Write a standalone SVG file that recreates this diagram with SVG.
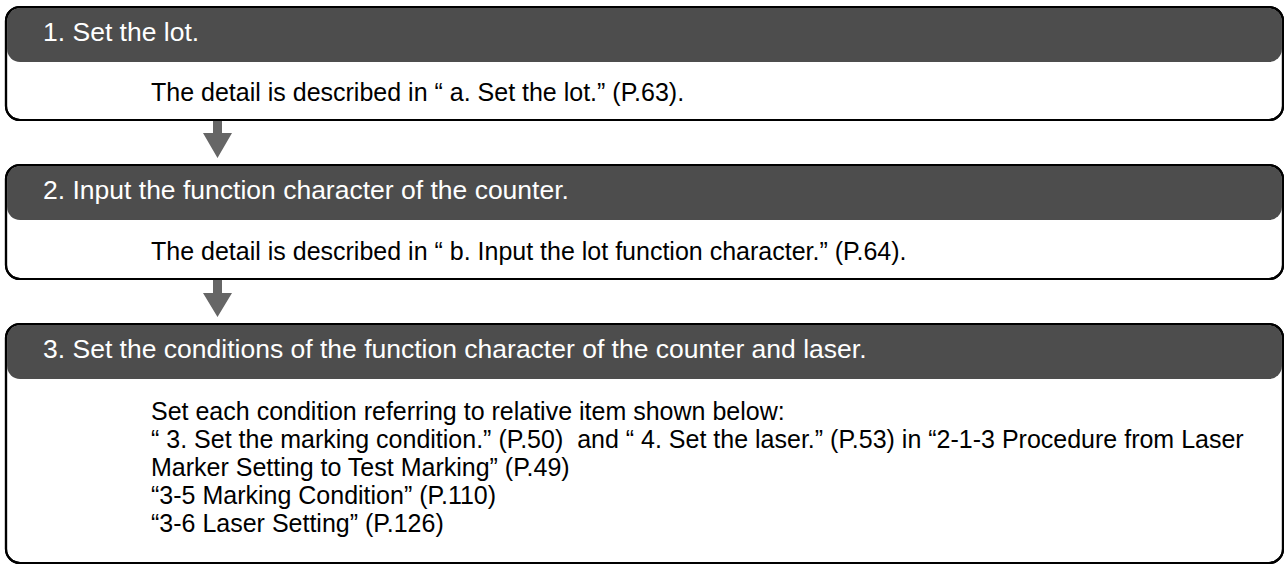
<svg xmlns="http://www.w3.org/2000/svg" width="1284" height="565" viewBox="0 0 1284 565">
<style>
.frame{fill:#ffffff;stroke:#000000;stroke-width:2.2}
.edge{fill:none;stroke:#000000;stroke-width:2.2}
.head{fill:#4d4d4d}
.ht{font-family:"Liberation Sans",Arial,sans-serif;font-size:26.5px;fill:#ffffff}
.bt{font-family:"Liberation Sans",Arial,sans-serif;font-size:25px;fill:#000000;white-space:pre}
.arrow{fill:#666666}
</style>
<rect width="1284" height="565" fill="#ffffff"/>
<g id="step1">
<rect class="frame" x="6" y="7" width="1277" height="113" rx="14"/>
<rect class="head" x="7.1" y="8.1" width="1274.8" height="54" rx="13"/>
<rect class="edge" x="6" y="7" width="1277" height="113" rx="14"/>
<text class="ht" x="43" y="41">1. Set the lot.</text>
<text class="bt" x="151" y="101">The detail is described in “ a. Set the lot.” (P.63).</text>
</g>
<g id="step2">
<rect class="frame" x="6" y="165" width="1277" height="114" rx="14"/>
<rect class="head" x="7.1" y="166.1" width="1274.8" height="54" rx="13"/>
<rect class="edge" x="6" y="165" width="1277" height="114" rx="14"/>
<text class="ht" x="43" y="199">2. Input the function character of the counter.</text>
<text class="bt" x="151" y="260">The detail is described in “ b. Input the lot function character.” (P.64).</text>
</g>
<g id="step3">
<rect class="frame" x="6" y="324" width="1277" height="239" rx="14"/>
<rect class="head" x="7.1" y="325.1" width="1274.8" height="54" rx="13"/>
<rect class="edge" x="6" y="324" width="1277" height="239" rx="14"/>
<text class="ht" x="43" y="358">3. Set the conditions of the function character of the counter and laser.</text>
<text class="bt" x="151" y="420">Set each condition referring to relative item shown below:</text>
<text class="bt" x="151" y="448">“ 3. Set the marking condition.” (P.50)  and “ 4. Set the laser.” (P.53) in “2-1-3 Procedure from Laser</text>
<text class="bt" x="151" y="476">Marker Setting to Test Marking” (P.49)</text>
<text class="bt" x="151" y="504">“3-5 Marking Condition” (P.110)</text>
<text class="bt" x="151" y="532">“3-6 Laser Setting” (P.126)</text>
</g>
<g id="connectors">
<path class="arrow" d="M213,121 H222 V133 H232 L217.5,158 L203,133 H213 Z"/>
<path class="arrow" d="M213,280 H222 V293 H232 L217.5,317 L203,293 H213 Z"/>
</g>
</svg>
